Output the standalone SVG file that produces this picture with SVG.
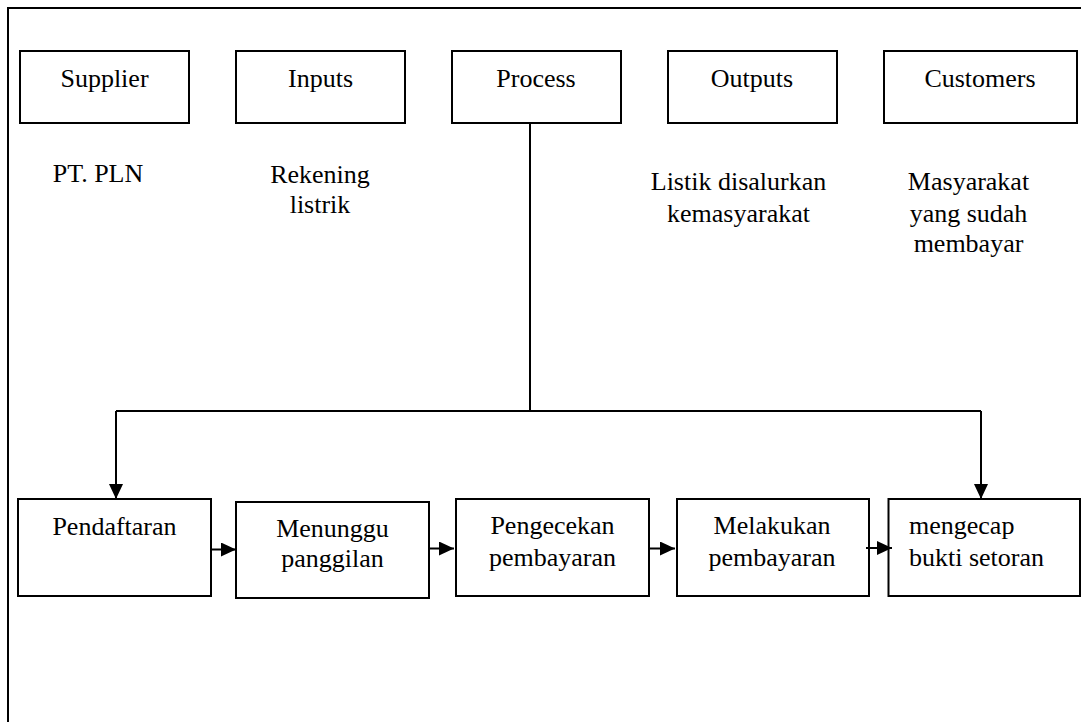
<svg xmlns="http://www.w3.org/2000/svg" width="1081" height="722" viewBox="0 0 1081 722">
  <style>
    .box { fill: #ffffff; stroke: #000000; stroke-width: 2; }
    .lbl { font-family: "Times New Roman", Times, "Liberation Serif", Tinos, "Noto Serif", "DejaVu Serif", serif; font-size: 26px; fill: #000000; text-anchor: middle; }
    .left { text-anchor: start; }
    .wire { fill: none; stroke: #000000; stroke-width: 2; }
    .frame { fill: none; stroke: #000000; stroke-width: 2; }
  </style>
  <defs>
    <marker id="arrow" viewBox="0 0 15 14" refX="15" refY="7" markerWidth="15" markerHeight="14" markerUnits="userSpaceOnUse" orient="auto">
      <path d="M0,0 L15,7 L0,14 z" fill="#000000"/>
    </marker>
  </defs>

  <rect width="1081" height="722" fill="#ffffff"/>

  <!-- outer frame (right and bottom edges run off the page) -->
  <rect class="frame" x="8" y="8" width="1100" height="740"/>

  <!-- SIPOC header row -->
  <g id="supplier">
    <rect class="box" x="20" y="51" width="169" height="72"/>
    <text class="lbl" x="104.5" y="87">Supplier</text>
  </g>
  <g id="inputs">
    <rect class="box" x="236" y="51" width="169" height="72"/>
    <text class="lbl" x="320.5" y="87">Inputs</text>
  </g>
  <g id="process">
    <rect class="box" x="452" y="51" width="169" height="72"/>
    <text class="lbl" x="536" y="87">Process</text>
  </g>
  <g id="outputs">
    <rect class="box" x="668" y="51" width="169" height="72"/>
    <text class="lbl" x="752" y="87">Outputs</text>
  </g>
  <g id="customers">
    <rect class="box" x="884" y="51" width="193" height="72"/>
    <text class="lbl" x="980" y="87">Customers</text>
  </g>

  <!-- descriptions under the header -->
  <g id="supplier-desc">
    <text class="lbl" x="98" y="182">PT. PLN</text>
  </g>
  <g id="inputs-desc">
    <text class="lbl" x="320" y="182.5">Rekening</text>
    <text class="lbl" x="320" y="212.5">listrik</text>
  </g>
  <g id="outputs-desc">
    <text class="lbl" x="738.5" y="190">Listik disalurkan</text>
    <text class="lbl" x="738.5" y="221.5">kemasyarakat</text>
  </g>
  <g id="customers-desc">
    <text class="lbl" x="968.5" y="190">Masyarakat</text>
    <text class="lbl" x="968.5" y="221.5">yang sudah</text>
    <text class="lbl" x="968.5" y="251.5">membayar</text>
  </g>

  <!-- process steps -->
  <g id="pendaftaran">
    <rect class="box" x="18" y="499" width="193" height="97"/>
    <text class="lbl" x="114.5" y="535">Pendaftaran</text>
  </g>
  <g id="menunggu">
    <rect class="box" x="236" y="502" width="193" height="96"/>
    <text class="lbl" x="332.5" y="537">Menunggu</text>
    <text class="lbl" x="332.5" y="567">panggilan</text>
  </g>
  <g id="pengecekan">
    <rect class="box" x="456" y="499" width="193" height="97"/>
    <text class="lbl" x="552.5" y="534">Pengecekan</text>
    <text class="lbl" x="552.5" y="566">pembayaran</text>
  </g>
  <g id="melakukan">
    <rect class="box" x="677" y="499" width="192" height="97"/>
    <text class="lbl" x="772" y="534">Melakukan</text>
    <text class="lbl" x="772" y="566">pembayaran</text>
  </g>
  <g id="mengecap">
    <rect class="box" x="888.5" y="499" width="191.5" height="97"/>
    <text class="lbl left" x="909" y="534">mengecap</text>
    <text class="lbl left" x="909" y="566">bukti setoran</text>
  </g>

  <!-- connectors -->
  <g id="connectors">
    <path class="wire" d="M530,123 V411"/>
    <path class="wire" d="M116,411 H981"/>
    <path class="wire" d="M116,411 V499" marker-end="url(#arrow)"/>
    <path class="wire" d="M981,411 V499" marker-end="url(#arrow)"/>
    <path class="wire" d="M211,549.5 H236" marker-end="url(#arrow)"/>
    <path class="wire" d="M429,548.5 H454" marker-end="url(#arrow)"/>
    <path class="wire" d="M649,548.5 H675" marker-end="url(#arrow)"/>
    <path class="wire" d="M866,548 H892" marker-end="url(#arrow)"/>
  </g>
</svg>
